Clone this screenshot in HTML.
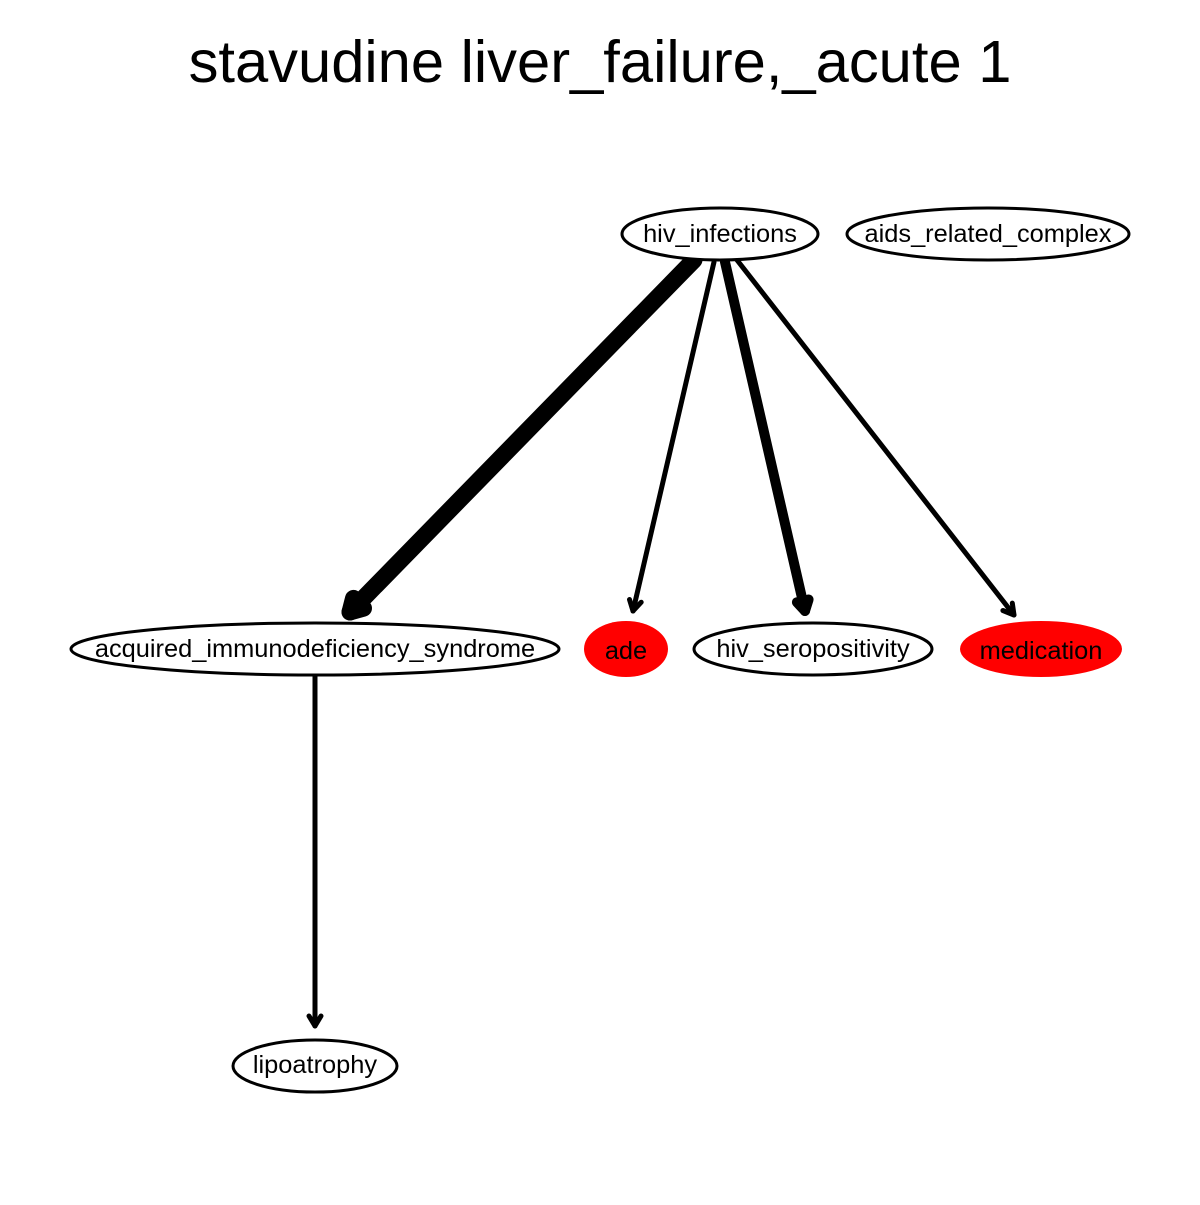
<!DOCTYPE html>
<html><head><meta charset="utf-8"><style>html,body{margin:0;padding:0;background:#fff}</style></head>
<body>
<svg width="1200" height="1200" viewBox="0 0 1200 1200" xmlns="http://www.w3.org/2000/svg">
<rect width="1200" height="1200" fill="#fff"/>
<text x="600" y="82" font-family="Liberation Sans, sans-serif" font-size="59.7" text-anchor="middle">stavudine liver_failure,_acute 1</text>
<g stroke="#000" fill="none" stroke-linecap="round" stroke-linejoin="round">
<line x1="694" y1="260" x2="350" y2="612" stroke-width="17"/>
<polyline points="363.5,608.2 350,612 353.5,598.4" stroke-width="17"/>
<line x1="714" y1="262" x2="633" y2="611" stroke-width="5"/>
<polyline points="641.2,602.2 633,611 629.5,599.5" stroke-width="5"/>
<line x1="725" y1="262" x2="805" y2="611" stroke-width="10"/>
<polyline points="808.6,599.5 805,611 796.9,602.2" stroke-width="10"/>
<line x1="737" y1="260" x2="1014" y2="615" stroke-width="5"/>
<polyline points="1012.3,603.1 1014,615 1002.9,610.5" stroke-width="5"/>
<line x1="315" y1="676" x2="315" y2="1026" stroke-width="5"/>
<polyline points="309,1016 315,1026 321,1016" stroke-width="5"/>
</g>
<g stroke="#000" stroke-width="3" fill="#fff">
<ellipse cx="720" cy="234" rx="98" ry="26"/>
<ellipse cx="988" cy="234" rx="141" ry="26"/>
<ellipse cx="315" cy="649" rx="244" ry="26"/>
<ellipse cx="813" cy="649" rx="119" ry="26"/>
<ellipse cx="315" cy="1066" rx="82" ry="26"/>
</g>
<ellipse cx="626" cy="649" rx="42" ry="28" fill="#f00"/>
<ellipse cx="1041" cy="649" rx="81" ry="28" fill="#f00"/>
<g font-family="Liberation Sans, sans-serif" font-size="25.4" text-anchor="middle">
<text x="720" y="242">hiv_infections</text>
<text x="988" y="242">aids_related_complex</text>
<text x="315" y="657">acquired_immunodeficiency_syndrome</text>
<text x="626" y="659">ade</text>
<text x="813" y="657">hiv_seropositivity</text>
<text x="1041" y="659">medication</text>
<text x="315" y="1073">lipoatrophy</text>
</g>
</svg>
</body></html>
